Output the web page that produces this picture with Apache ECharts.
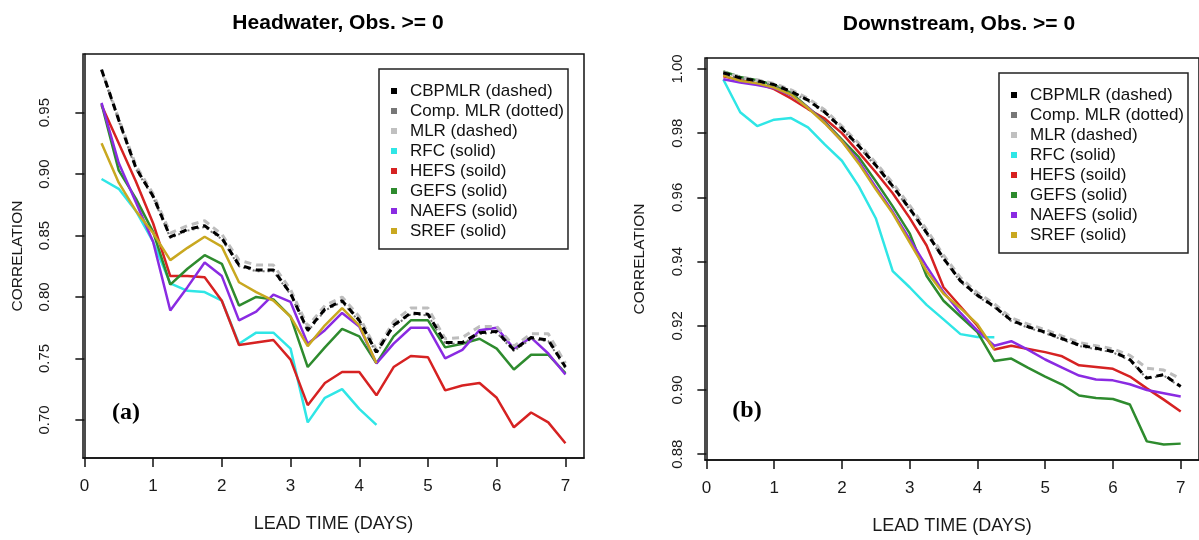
<!DOCTYPE html>
<html>
<head>
<meta charset="utf-8">
<script src="https://cdn.jsdelivr.net/npm/echarts@6/dist/echarts.min.js"></script>
<style>
html,body{margin:0;padding:0;background:#fff;}
#c{width:1199px;height:540px;}
</style>
</head>
<body>
<div id="c"></div>
<script>
// ---- data ----
const leadTimes = [0.25,0.5,0.75,1.0,1.25,1.5,1.75,2.0,2.25,2.5,2.75,3.0,3.25,3.5,3.75,4.0,4.25,4.5,4.75,5.0,5.25,5.5,5.75,6.0,6.25,6.5,6.75,7.0];
const xTickValues = [0,1,2,3,4,5,6,7];
const yTicksHead = [0.70,0.75,0.80,0.85,0.90,0.95];
const yTicksDown = [0.88,0.90,0.92,0.94,0.96,0.98,1.00];

const seriesNames = ['CBPMLR (dashed)','Comp. MLR (dotted)','MLR (dashed)','RFC (solid)','HEFS (soild)','GEFS (solid)','NAEFS (solid)','SREF (solid)'];

// Headwater panel
const headCBPMLR = [0.985,0.944,0.905,0.882,0.849,0.855,0.858,0.848,0.826,0.822,0.822,0.803,0.773,0.790,0.797,0.781,0.755,0.777,0.787,0.786,0.763,0.763,0.771,0.772,0.757,0.767,0.765,0.743];
const headCompMLR = [0.984,0.943,0.904,0.881,0.848,0.854,0.857,0.847,0.825,0.821,0.821,0.802,0.772,0.789,0.796,0.780,0.754,0.776,0.786,0.785,0.762,0.762,0.770,0.771,0.756,0.766,0.764,0.742];
const headMLR = [0.985,0.945,0.907,0.884,0.852,0.858,0.862,0.851,0.830,0.826,0.826,0.806,0.776,0.793,0.800,0.784,0.757,0.780,0.791,0.791,0.766,0.767,0.776,0.776,0.760,0.770,0.770,0.746];
const headRFC = [0.896,0.888,0.870,0.845,0.811,0.805,0.804,0.797,0.762,0.771,0.771,0.758,0.698,0.718,0.725,0.709,0.696];
const headHEFS = [0.956,0.925,0.894,0.860,0.817,0.817,0.816,0.797,0.761,0.763,0.765,0.749,0.712,0.730,0.739,0.739,0.720,0.743,0.752,0.751,0.724,0.728,0.730,0.718,0.694,0.706,0.698,0.681];
const headGEFS = [0.957,0.903,0.880,0.853,0.810,0.823,0.834,0.827,0.793,0.800,0.798,0.784,0.743,0.759,0.774,0.768,0.746,0.768,0.781,0.781,0.759,0.762,0.766,0.758,0.741,0.753,0.753,0.738];
const headNAEFS = [0.958,0.909,0.877,0.845,0.789,0.808,0.828,0.817,0.781,0.788,0.802,0.796,0.762,0.773,0.787,0.776,0.746,0.762,0.775,0.775,0.750,0.757,0.773,0.775,0.758,0.767,0.754,0.737];
const headSREF = [0.925,0.893,0.870,0.852,0.830,0.840,0.849,0.841,0.812,0.804,0.797,0.784,0.760,0.777,0.791,0.777,0.746];

// Downstream panel
const downCBPMLR = [0.9988,0.9972,0.9963,0.9951,0.9930,0.9903,0.9865,0.9815,0.9760,0.9700,0.9635,0.9565,0.9490,0.9410,0.9340,0.9295,0.9260,0.9217,0.9197,0.9180,0.9160,0.9140,0.9130,0.9120,0.9095,0.9037,0.9048,0.9011];
const downCompMLR = [0.9985,0.9969,0.9960,0.9948,0.9927,0.9900,0.9862,0.9812,0.9757,0.9697,0.9632,0.9562,0.9487,0.9407,0.9337,0.9292,0.9257,0.9214,0.9194,0.9177,0.9157,0.9137,0.9127,0.9117,0.9092,0.9036,0.9045,0.9009];
const downMLR = [0.9990,0.9975,0.9966,0.9955,0.9935,0.9908,0.9872,0.9822,0.9768,0.9708,0.9645,0.9575,0.9500,0.9420,0.9350,0.9303,0.9268,0.9225,0.9205,0.9188,0.9168,0.9148,0.9138,0.9128,0.9108,0.9068,0.9062,0.9035];
const downRFC = [0.9967,0.9865,0.9822,0.9842,0.9847,0.9818,0.9764,0.9714,0.9634,0.9535,0.9370,0.9320,0.9265,0.9220,0.9174,0.9165,0.9164];
const downHEFS = [0.9977,0.9965,0.9955,0.9937,0.9908,0.9875,0.9845,0.9800,0.9740,0.9678,0.9613,0.9536,0.9450,0.9320,0.9260,0.9200,0.9126,0.9138,0.9128,0.9118,0.9105,0.9077,0.9072,0.9066,0.9042,0.9005,0.8970,0.8933];
const downGEFS = [0.9992,0.9975,0.9965,0.9950,0.9925,0.9880,0.9835,0.9780,0.9725,0.9650,0.9572,0.9488,0.9355,0.9278,0.9229,0.9180,0.9090,0.9098,0.9069,0.9042,0.9017,0.8983,0.8975,0.8972,0.8955,0.8840,0.8830,0.8833];
const downNAEFS = [0.9968,0.9958,0.9950,0.9940,0.9918,0.9880,0.9832,0.9775,0.9712,0.9632,0.9555,0.9470,0.9385,0.9305,0.9240,0.9185,0.9138,0.9152,0.9125,0.9095,0.9070,0.9045,0.9033,0.9030,0.9018,0.9000,0.8990,0.8980];
const downSREF = [0.9980,0.9963,0.9955,0.9942,0.9920,0.9878,0.9830,0.9775,0.9705,0.9625,0.9550,0.9460,0.9370,0.9300,0.9255,0.9205,0.9126];

// ---- styles ----
const colors = {
  cb: '#000000', comp: '#777777', mlr: '#bdbdbd',
  rfc: '#2fe6e6', hefs: '#d62222', gefs: '#2e8b2e', naefs: '#8a2be2', sref: '#c9a820'
};
const legendColors = ['#000000','#777777','#c0c0c0','#2fe6e6','#d62222','#2e8b2e','#8a2be2','#c9a820'];

function pts(vals){ return vals.map((v,i)=>[leadTimes[i], v]); }

function panelSeries(idx, d){
  const base = {type:'line', xAxisIndex:idx, yAxisIndex:idx, showSymbol:false, symbol:'none', silent:true, animation:false};
  return [
    Object.assign({}, base, {name:seriesNames[3], data:pts(d.rfc), z:2, lineStyle:{color:colors.rfc,width:2.5}, itemStyle:{color:colors.rfc}}),
    Object.assign({}, base, {name:seriesNames[4], data:pts(d.hefs), z:2, lineStyle:{color:colors.hefs,width:2.5}, itemStyle:{color:colors.hefs}}),
    Object.assign({}, base, {name:seriesNames[5], data:pts(d.gefs), z:2, lineStyle:{color:colors.gefs,width:2.5}, itemStyle:{color:colors.gefs}}),
    Object.assign({}, base, {name:seriesNames[6], data:pts(d.naefs), z:2, lineStyle:{color:colors.naefs,width:2.5}, itemStyle:{color:colors.naefs}}),
    Object.assign({}, base, {name:seriesNames[7], data:pts(d.sref), z:2, lineStyle:{color:colors.sref,width:2.5}, itemStyle:{color:colors.sref}}),
    Object.assign({}, base, {name:seriesNames[2], data:pts(d.mlr), z:3, lineStyle:{color:colors.mlr,width:3,type:[7,5],dashOffset:3}, itemStyle:{color:legendColors[2]}}),
    Object.assign({}, base, {name:seriesNames[1], data:pts(d.comp), z:4, lineStyle:{color:colors.comp,width:2,type:[2,3]}, itemStyle:{color:colors.comp}}),
    Object.assign({}, base, {name:seriesNames[0], data:pts(d.cb), z:5, lineStyle:{color:colors.cb,width:3,type:[7,5]}, itemStyle:{color:colors.cb}})
  ];
}

function xAxisFor(idx){
  return {
    gridIndex: idx, type:'value', min:-0.02, max:7.27,
    splitLine:{show:false},
    axisLine:{show:true, lineStyle:{color:'#111', width:1.5}},
    axisTick:{show:true, customValues:xTickValues, length:9, lineStyle:{color:'#111', width:1.5}},
    axisLabel:{customValues:xTickValues, fontSize:17, color:'#1a1a1a', margin:20, fontFamily:'Liberation Sans, Arial, sans-serif'},
    name:'LEAD TIME (DAYS)', nameLocation:'middle', nameGap:57,
    nameTextStyle:{fontSize:18, color:'#1a1a1a', fontFamily:'Liberation Sans, Arial, sans-serif'}
  };
}
function yAxisFor(idx, min, max, ticks, labelMargin){
  return {
    gridIndex: idx, type:'value', min:min, max:max,
    splitLine:{show:false},
    axisLine:{show:true, lineStyle:{color:'#111', width:1.5}},
    axisTick:{show:true, customValues:ticks, length:9, lineStyle:{color:'#111', width:1.5}},
    axisLabel:{customValues:ticks, rotate:90, fontSize:15, color:'#1a1a1a', margin:labelMargin,
      fontFamily:'Liberation Sans, Arial, sans-serif', formatter:(v)=>Number(v).toFixed(2)},
    name:'CORRELATION', nameLocation:'middle', nameRotate:90, nameGap:57,
    nameTextStyle:{fontSize:15.5, color:'#1a1a1a', fontFamily:'Liberation Sans, Arial, sans-serif'}
  };
}
function legendFor(left, top){
  return {
    orient:'vertical', left:left, top:top, icon:'rect', itemWidth:6, itemHeight:6, itemGap:0,
    padding:[12,4,8,12], borderColor:'#222', borderWidth:1.5, backgroundColor:'#fff',
    selectedMode:false, inactiveColor:'#ccc',
    itemStyle:{borderWidth:0},
    textStyle:{fontSize:17, lineHeight:20, color:'#111', padding:[0,0,0,8], fontFamily:'Liberation Sans, Arial, sans-serif'},
    data: seriesNames.map((n,i)=>({name:n, itemStyle:{color:legendColors[i], borderWidth:0}}))
  };
}

const option = {
  animation:false,
  backgroundColor:'#fff',
  title:[
    {text:'Headwater, Obs. >= 0', left:333, top:8, textAlign:'center', textStyle:{fontSize:21, fontWeight:'bold', color:'#000', fontFamily:'Liberation Sans, Arial, sans-serif'}},
    {text:'Downstream, Obs. >= 0', left:954, top:9, textAlign:'center', textStyle:{fontSize:21, fontWeight:'bold', color:'#000', fontFamily:'Liberation Sans, Arial, sans-serif'}},
    {text:'(a)', left:121, top:396, textAlign:'center', textStyle:{fontSize:24, fontWeight:'bold', color:'#000', fontFamily:'Liberation Serif, Times New Roman, serif'}},
    {text:'(b)', left:742, top:394, textAlign:'center', textStyle:{fontSize:24, fontWeight:'bold', color:'#000', fontFamily:'Liberation Serif, Times New Roman, serif'}}
  ],
  grid:[
    {left:83, top:54, width:501, height:404, show:true, borderColor:'#111', borderWidth:1.5, backgroundColor:'transparent'},
    {left:705, top:58, width:497, height:402, show:true, borderColor:'#111', borderWidth:1.5, backgroundColor:'transparent'}
  ],
  xAxis:[ xAxisFor(0), xAxisFor(1) ],
  yAxis:[
    yAxisFor(0, 0.669, 0.9977, yTicksHead, 31),
    yAxisFor(1, 0.8782, 1.0034, yTicksDown, 20)
  ],
  legend:[ legendFor(379, 69), legendFor(999, 73) ],
  series: [].concat(
    panelSeries(0, {cb:headCBPMLR, comp:headCompMLR, mlr:headMLR, rfc:headRFC, hefs:headHEFS, gefs:headGEFS, naefs:headNAEFS, sref:headSREF}),
    panelSeries(1, {cb:downCBPMLR, comp:downCompMLR, mlr:downMLR, rfc:downRFC, hefs:downHEFS, gefs:downGEFS, naefs:downNAEFS, sref:downSREF})
  )
};

const chart = echarts.init(document.getElementById('c'), null, {renderer:'canvas'});
chart.setOption(option);
</script>
</body>
</html>
